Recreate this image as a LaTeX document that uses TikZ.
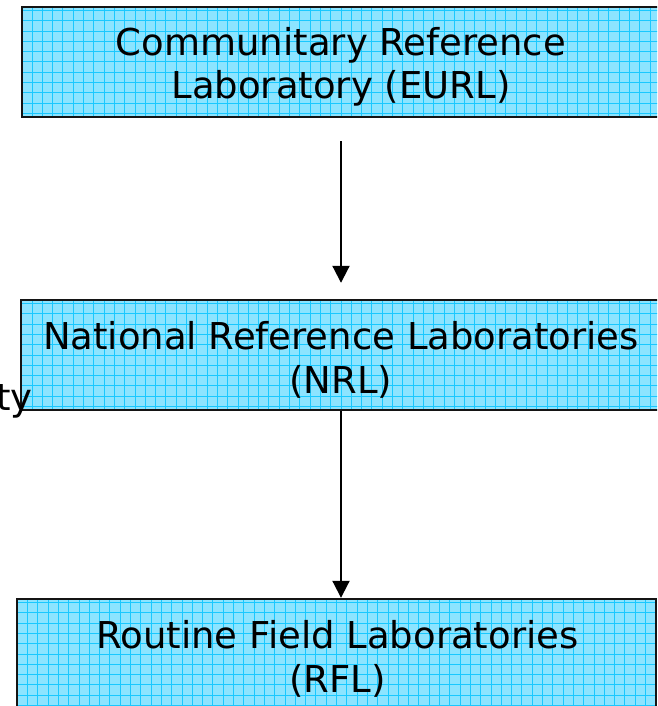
\documentclass[tikz,border=0pt]{standalone}
\usepackage{fontspec}
\setmainfont{DejaVu Sans}
\usetikzlibrary{positioning,arrows.meta}
\definecolor{gridFill}{RGB}{140,228,255}
\definecolor{gridLine}{RGB}{25,200,255}
\definecolor{boxEdge}{RGB}{20,20,20}

\begin{document}
\begin{tikzpicture}[x=1pt,y=1pt,
    labbox/.style={draw=boxEdge,line width=2.4pt,fill=gridFill,minimum height=110pt,inner sep=0pt,
                  path picture={\draw[gridLine,line width=1pt,xstep=10.3,ystep=10.3]
                      (path picture bounding box.south west) grid (path picture bounding box.north east);}},
    labtext/.style={font=\fontsize{37}{43.5}\selectfont,align=center,inner sep=0pt},
    flow/.style={line width=2pt,-{Triangle[width=17pt,length=17pt]}}
  ]
  \clip (0,0) rectangle (657,-706);
  % the three levels
  \node[labbox,minimum width=638pt] (eurl) at (341,-62) {};
  \node[labbox,minimum width=640pt] (nrl) at (341,-355) {};
  \node[labbox,minimum width=639pt] (rfl) at (336.5,-654) {};
  \node[labtext] (eurltxt) at ([yshift=-5pt]eurl.center) {Communitary Reference\\Laboratory (EURL)};
  \node[labtext] (nrltxt) at ([yshift=-5pt]nrl.center) {National Reference Laboratories\\(NRL)};
  \node[labtext] (rfltxt) at ([xshift=1pt,yshift=-5pt]rfl.center) {Routine Field Laboratories\\(RFL)};
  \node[labtext,anchor=base east] (frag) at (33,-410) {ty};
  % links
  \draw[flow,shorten <=23pt,shorten >=16pt] (eurl.south) -- (nrl.north);
  \draw[flow] (nrl.south) -- (nrl.south |- rfl.north);
\end{tikzpicture}
\end{document}
